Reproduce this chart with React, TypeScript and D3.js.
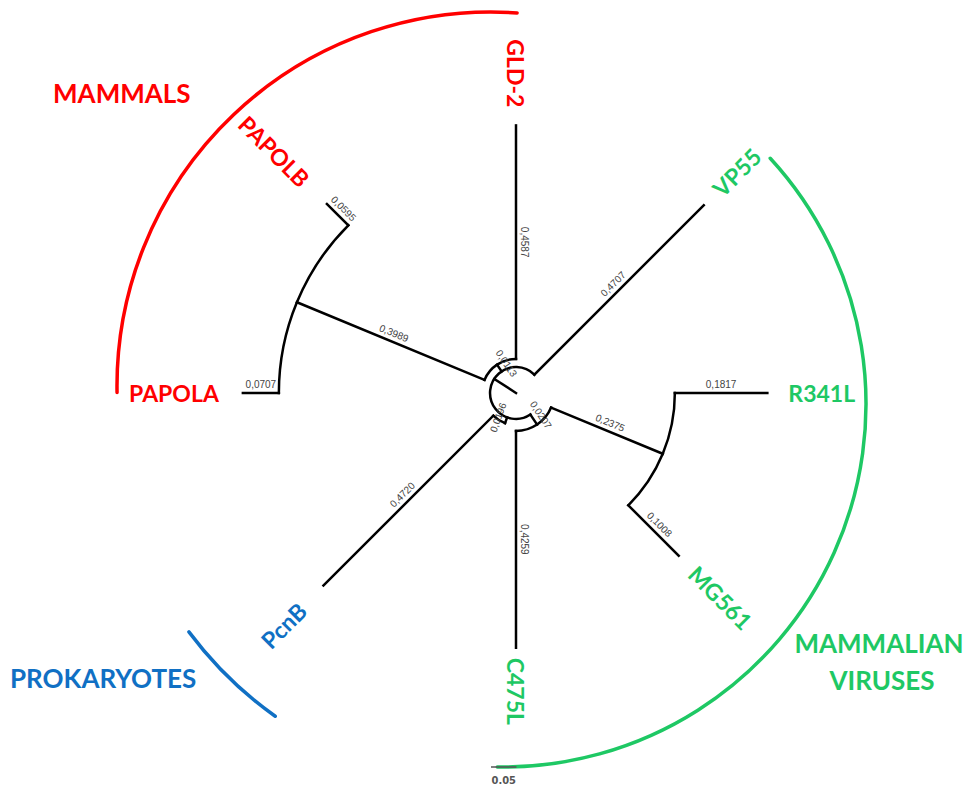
import React from "react";
import * as d3 from "d3";

// ---- data ----
const nodeIds = ["root", "A", "N5", "N2", "R341L", "MG561", "C475L", "N4", "PcnB", "N3", "N1", "PAPOLA", "PAPOLB", "GLD-2", "VP55"];
const parentIds = ["", "root", "A", "N5", "N2", "N2", "N5", "A", "N4", "A", "N3", "N1", "N1", "N3", "A"];
const branchLengths = [0, 0.051, 0.0236, 0.2375, 0.1817, 0.14, 0.4259, 0.012, 0.472, 0.016, 0.3989, 0.0707, 0.0595, 0.4587, 0.4707];
const branchLabels = ["", "", "0,0207", "0,2375", "0,1817", "0,1008", "0,4259", "0,0196", "0,4720", "0,0113", "0,3989", "0,0707", "0,0595", "0,4587", "0,4707"];
const nodeAngleOverrides: Record<string, number> = { A: 213, N4: 110 };

const mammals = ["PAPOLA", "PAPOLB", "GLD-2"];
const viruses = ["VP55", "R341L", "MG561", "C475L"];
const prokaryotes = ["PcnB"];

const cladeNames = ["MAMMALS", "MAMMALIAN VIRUSES", "PROKARYOTES"];
const scaleBarValue = 0.05;
const scaleBarLabel = "0.05";

// ---- layout / style ----
const W = 972, H = 789;
const CX = 516, CY = 393;
const RED = "#ff0000", GREEN = "#1ec864", BLUE = "#1070c4";
const leafGap = 18;
const leafGapAdjust: Record<string, number> = { PcnB: 12, PAPOLB: 12, PAPOLA: 6, "C475L": -8, R341L: 3, MG561: 2 };

const cladeArcs = [
  { color: RED, cx: 491, cy: 386, r: 374, a0: 179, a1: 274 },
  { color: GREEN, cx: 503, cy: 404, r: 363, a0: -42.6, a1: 90.9 },
  { color: BLUE, cx: 500, cy: 400, r: 388, a0: 125.4, a1: 143.3 },
];

function colorOf(name: string) {
  if (mammals.includes(name)) return RED;
  if (viruses.includes(name)) return GREEN;
  if (prokaryotes.includes(name)) return BLUE;
  return "#000";
}

const rad = (deg: number) => (deg * Math.PI) / 180;

function textRot(theta: number) {
  const a = ((theta % 360) + 360) % 360;
  if (a > 90 && a <= 270) return { rot: a - 180, left: true };
  return { rot: a > 270 ? a - 360 : a, left: false };
}

export default function App() {
  const rows = nodeIds.map((id, i) => ({ id, parent: parentIds[i] || null, len: branchLengths[i], label: branchLabels[i] }));
  const root = d3.stratify<any>().id((d) => d.id).parentId((d) => d.parent)(rows) as any;

  const leaves = root.leaves();
  const step = 360 / leaves.length;
  leaves.forEach((l: any, i: number) => (l.angle = i * step));
  root.eachAfter((n: any) => {
    if (!n.children) return;
    const o = nodeAngleOverrides[n.id];
    n.angle = o !== undefined ? o : (n.children[0].angle + n.children[n.children.length - 1].angle) / 2;
  });
  root.eachBefore((n: any) => {
    n.dist = n.parent ? n.parent.dist + n.data.len : 0;
  });

  const rScale = d3.scaleLinear().domain([0, 1]).range([0, 509]);
  const pt = (r: number, a: number) => [CX + r * Math.cos(rad(a)), CY + r * Math.sin(rad(a))];

  const nodes = root.descendants();
  const edges: any[] = [];
  const arcs: any[] = [];
  const edgeLabels: any[] = [];
  nodes.forEach((n: any) => {
    if (n.parent) {
      const r0 = rScale(n.parent.dist), r1 = rScale(n.dist);
      const [x0, y0] = pt(r0, n.angle);
      const [x1, y1] = pt(r1, n.angle);
      edges.push(<line key={"e" + n.id} x1={x0} y1={y0} x2={x1} y2={y1} />);
      if (n.data.label) {
        const [mx, my] = pt((r0 + r1) / 2, n.angle);
        const { rot } = textRot(n.angle);
        edgeLabels.push(
          <text key={"l" + n.id} transform={`translate(${mx},${my}) rotate(${rot}) translate(0,-5)`} textAnchor="middle"
            fontFamily="Liberation Sans, Arial, sans-serif" fontSize={10} fill="#444">{n.data.label}</text>
        );
      }
    }
    if (n.children) {
      const angs = n.children.map((c: any) => c.angle).concat([n.angle]);
      const a0 = Math.min(...angs), a1 = Math.max(...angs);
      const r = rScale(n.dist);
      if (a1 > a0 && r > 0) {
        const p = d3.path();
        const [sx, sy] = pt(r, a0);
        p.moveTo(sx, sy);
        p.arc(CX, CY, r, rad(a0), rad(a1));
        arcs.push(<path key={"a" + n.id} d={p.toString()} />);
      }
    }
  });

  const leafLabels = leaves.map((l: any) => {
    const r = rScale(l.dist) + leafGap + (leafGapAdjust[l.id] || 0);
    const [x, y] = pt(r, l.angle);
    const { rot, left } = textRot(l.angle);
    return (
      <text key={"t" + l.id} transform={`translate(${x},${y}) rotate(${rot})`} textAnchor={left ? "end" : "start"}
        dominantBaseline="central" fontFamily="Lato, sans-serif" fontWeight={700} fontSize={23} fill={colorOf(l.id)}>
        {l.id}
      </text>
    );
  });

  const cladePaths = cladeArcs.map((c, i) => {
    const p = d3.path();
    p.moveTo(c.cx + c.r * Math.cos(rad(c.a0)), c.cy + c.r * Math.sin(rad(c.a0)));
    p.arc(c.cx, c.cy, c.r, rad(c.a0), rad(c.a1));
    return <path key={"c" + i} d={p.toString()} fill="none" stroke={c.color} strokeWidth={3.5} strokeLinecap="round" />;
  });

  const barLen = rScale(scaleBarValue);

  return (
    <svg width={W} height={H} style={{ position: "absolute", left: 0, top: 0, background: "#fff" }}>
      {cladePaths}
      <g stroke="#000" strokeWidth={2.5} fill="none" strokeLinecap="square">
        {edges}
        {arcs}
      </g>
      {edgeLabels}
      {leafLabels}
      <text x={53} y={103} fontFamily="Lato, sans-serif" fontWeight={700} fontSize={26} fill={RED}>{cladeNames[0]}</text>
      <text x={879} y={653} textAnchor="middle" fontFamily="Lato, sans-serif" fontWeight={700} fontSize={26} fill={GREEN}>{cladeNames[1].split(" ")[0]}</text>
      <text x={882} y={690} textAnchor="middle" fontFamily="Lato, sans-serif" fontWeight={700} fontSize={26} fill={GREEN}>{cladeNames[1].split(" ")[1]}</text>
      <text x={10} y={688} fontFamily="Lato, sans-serif" fontWeight={700} fontSize={26} fill={BLUE}>{cladeNames[2]}</text>
      <line x1={491} x2={491 + barLen} y1={767} y2={767} stroke="#555" strokeWidth={1.5} />
      <text x={491 + barLen / 2} y={784} textAnchor="middle" fontFamily="DejaVu Sans Condensed, DejaVu Sans, sans-serif"
        fontWeight={700} fontSize={11} fill="#555">{scaleBarLabel}</text>
    </svg>
  );
}
